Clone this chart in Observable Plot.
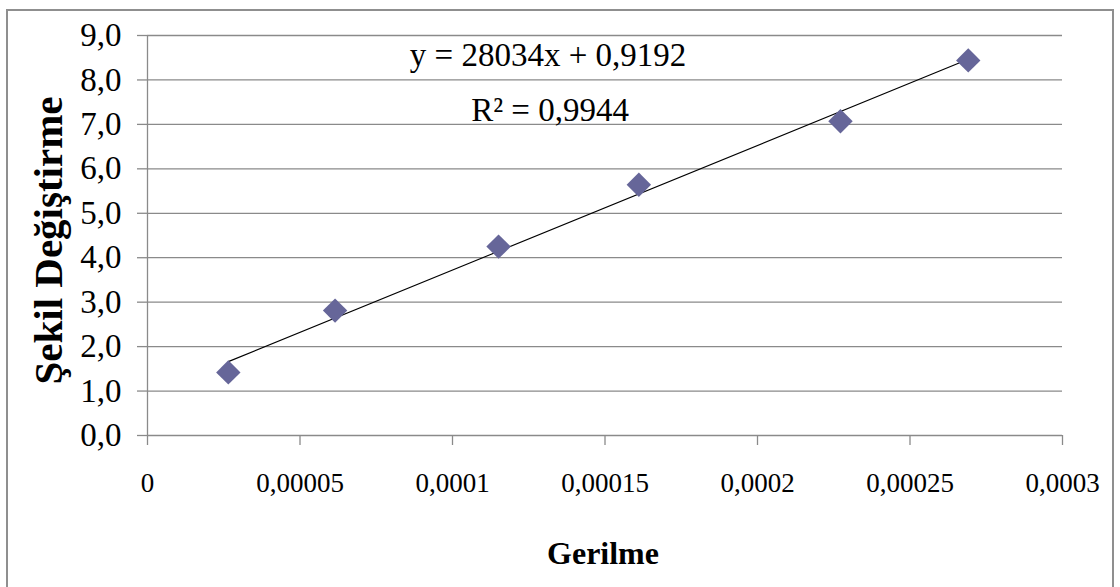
<!DOCTYPE html>
<html>
<head>
<meta charset="utf-8">
<script src="https://cdn.jsdelivr.net/npm/d3@7"></script>
<script src="https://cdn.jsdelivr.net/npm/@observablehq/plot@0.6"></script>
<style>
  html, body { margin: 0; padding: 0; background: #fff; }
  #wrap { position: relative; width: 1120px; height: 587px; overflow: hidden; }
  #border { position: absolute; left: 6px; top: 9px; width: 1108px; height: 600px; border: 2px solid #8f8f8f; box-sizing: border-box; pointer-events: none; }
  #chart { position: absolute; left: 0; top: 0; }
</style>
</head>
<body>
<div id="wrap"><div id="chart"></div><div id="border"></div></div>
<script>
// Data
const gerilme = [0.0000265, 0.0000615, 0.0001151, 0.0001611, 0.0002272, 0.0002691];
const sekilDegistirme = [1.42, 2.81, 4.25, 5.64, 7.07, 8.44];
const slope = 28034;
const intercept = 0.9192;
const equationText = "y = 28034x + 0,9192";
const r2Text = "R² = 0,9944";
const xTicks = [0, 0.00005, 0.0001, 0.00015, 0.0002, 0.00025, 0.0003];
const xTickLabels = ["0", "0,00005", "0,0001", "0,00015", "0,0002", "0,00025", "0,0003"];
const yTicks = [0, 1, 2, 3, 4, 5, 6, 7, 8, 9];
const yTickLabels = ["0,0", "1,0", "2,0", "3,0", "4,0", "5,0", "6,0", "7,0", "8,0", "9,0"];
const xTitle = "Gerilme";
const yTitle = "Şekil Değiştirme";

const points = gerilme.map((x, i) => ({x, y: sekilDegistirme[i]}));
const xMin = d3.min(gerilme), xMax = d3.max(gerilme);
const trend = [xMin, xMax].map(x => ({x, y: slope * x + intercept}));

const grid = "#8a8a8a";
const font = "Liberation Serif, Times New Roman, serif";

const chart = Plot.plot({
  width: 1120,
  height: 587,
  marginLeft: 147,
  marginRight: 58,
  marginTop: 35,
  marginBottom: 152,
  style: {fontFamily: font, background: "transparent", color: "#000"},
  x: {domain: [0, 0.0003]},
  y: {domain: [0, 9]},
  marks: [
    Plot.gridY(yTicks, {stroke: grid, strokeOpacity: 1, strokeWidth: 1.3}),
    Plot.ruleX([0], {stroke: grid, strokeWidth: 1.3}),
    Plot.axisY(yTicks, {
      tickSize: 10, tickPadding: 16, stroke: grid, strokeWidth: 1.3,
      fontSize: 33, label: null,
      tickFormat: (d) => yTickLabels[yTicks.indexOf(d)]
    }),
    Plot.axisX(xTicks, {
      tickSize: 10, tickPadding: 27, stroke: grid, strokeWidth: 1.3,
      fontSize: 27, label: null,
      tickFormat: (d) => xTickLabels[xTicks.indexOf(d)]
    }),
    Plot.line(trend, {x: "x", y: "y", stroke: "#000", strokeWidth: 1.1}),
    Plot.dot(points, {x: "x", y: "y", symbol: "diamond2", r: 11, fill: "#666699", stroke: "none"}),
    Plot.text([equationText], {frameAnchor: "top", text: d => d, dx: -57, dy: 30, lineAnchor: "bottom", fontSize: 33, fill: "#000"}),
    Plot.text([r2Text], {frameAnchor: "top", text: d => d, dx: -55, dy: 85, lineAnchor: "bottom", fontSize: 33, fill: "#000"}),
    Plot.text([xTitle], {frameAnchor: "bottom", text: d => d, dx: -2, dy: 128, lineAnchor: "bottom", fontSize: 32, fontWeight: "bold", fill: "#000"}),
    Plot.text([yTitle], {frameAnchor: "left", text: d => d, textAnchor: "middle", dx: -86, dy: 5, rotate: -90, lineAnchor: "bottom", fontSize: 41, fontWeight: "bold", fill: "#000"})
  ]
});
document.getElementById("chart").appendChild(chart);
</script>
</body>
</html>
